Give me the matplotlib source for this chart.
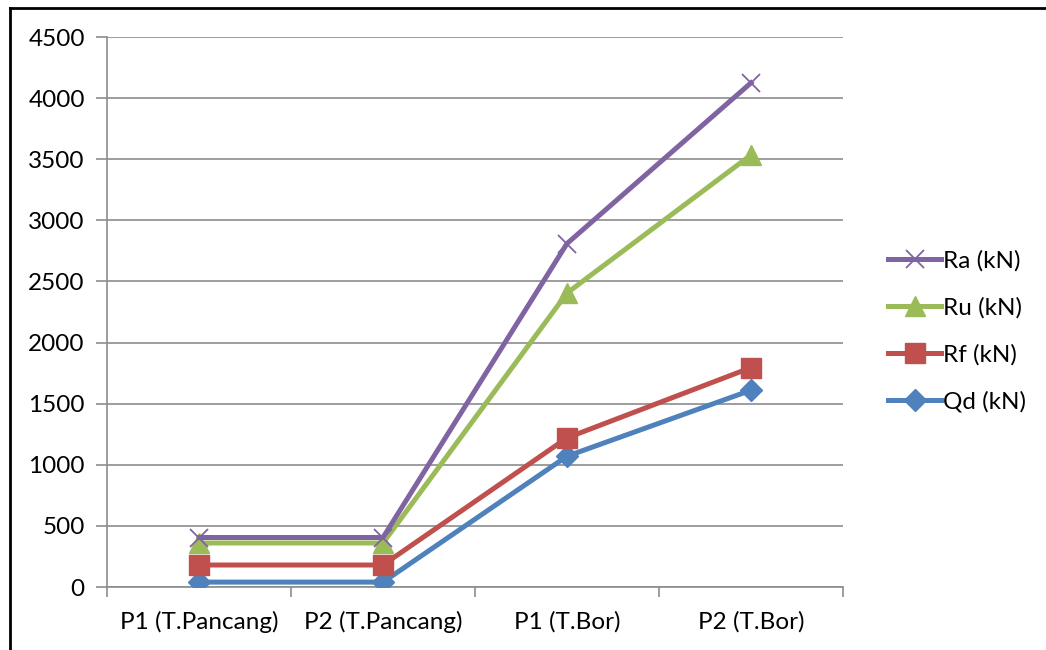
import matplotlib
matplotlib.use('Agg')
import matplotlib.pyplot as plt
from matplotlib.lines import Line2D

plt.rcParams['font.family'] = ['Lato', 'DejaVu Sans']

categories = ['P1 (T.Pancang)', 'P2 (T.Pancang)', 'P1 (T.Bor)', 'P2 (T.Bor)']
qd = [40, 40, 1070, 1610]
rf = [180, 180, 1220, 1795]
ru = [360, 360, 2405, 3535]
ra = [405, 405, 2810, 4125]
y_ticks = [0, 500, 1000, 1500, 2000, 2500, 3000, 3500, 4000, 4500]

fs = 17.5
fig = plt.figure(figsize=(10.46, 6.5), dpi=100)
ax = fig.add_axes([107 / 1046, 63 / 650, (843 - 107) / 1046, (587 - 37) / 650])

x = list(range(len(categories)))
lw = 3.6
ax.plot(x, qd, color='#4F81BD', lw=lw, marker='D', ms=11, label='Qd (kN)', zorder=3)
ax.plot(x, rf, color='#C0504D', lw=lw, marker='s', ms=14, label='Rf (kN)', zorder=4)
ax.plot(x, ru, color='#9BBB59', lw=lw, marker='^', ms=14, label='Ru (kN)', zorder=5)
ax.plot(x, ra, color='#8064A2', lw=lw, marker='x', ms=13, mew=1.3,
        label='Ra (kN)', zorder=6)

ax.set_xlim(-0.5, len(categories) - 0.5)
ax.set_ylim(0, 4500)
ax.set_yticks(y_ticks)
ax.set_yticklabels([str(v) for v in y_ticks], fontsize=fs)
ax.yaxis.grid(True, color='#8c8c8c', lw=1.2)
ax.set_axisbelow(True)

ax.set_xticks([i - 0.5 for i in range(len(categories) + 1)])
ax.set_xticklabels([])
ax.set_xticks(x, minor=True)
ax.set_xticklabels(categories, minor=True, fontsize=fs)
ax.tick_params(axis='x', which='major', length=7, color='#8c8c8c', width=1.2)
ax.tick_params(axis='x', which='minor', length=0, pad=17)
ax.tick_params(axis='y', length=8, color='#8c8c8c', width=1.2, pad=8)

for s in ['top', 'right']:
    ax.spines[s].set_visible(False)
for s in ['left', 'bottom']:
    ax.spines[s].set_color('#8c8c8c')
    ax.spines[s].set_linewidth(1.2)

h, l = ax.get_legend_handles_labels()
ax.legend(h[::-1], l[::-1], loc='center left', bbox_to_anchor=(1.032, 0.465),
          frameon=False, fontsize=fs, handlelength=2.15, handletextpad=0.1,
          labelspacing=1.05)

# outer border (top and left only visible)
fig.add_artist(Line2D([9.5 / 1046, 1], [1 - 7.5 / 650, 1 - 7.5 / 650],
                      color='black', lw=2, transform=fig.transFigure))
fig.add_artist(Line2D([9.5 / 1046, 9.5 / 1046], [0, 1 - 7.5 / 650],
                      color='black', lw=2, transform=fig.transFigure))

plt.savefig('out.png', dpi=100)
